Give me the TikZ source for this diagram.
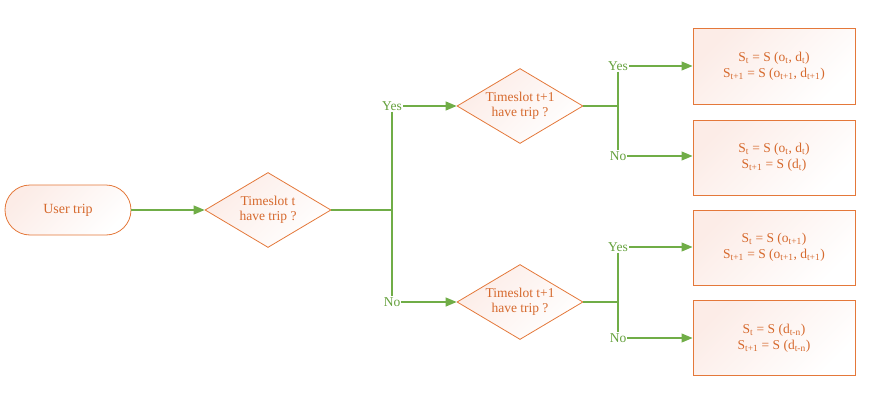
\documentclass[tikz,border=0pt]{standalone}
\usepackage{fontspec}
\setmainfont{Liberation Serif}
\usetikzlibrary{arrows.meta,shapes.geometric}
\definecolor{orangeline}{RGB}{228,120,58}
\definecolor{orangetext}{RGB}{214,105,45}
\definecolor{greenline}{RGB}{112,173,71}
\definecolor{greentext}{RGB}{100,160,60}
\definecolor{pinkfill}{RGB}{252,236,231}
\tikzset{
  shapefill/.style={top color=pinkfill, bottom color=white, shading angle=45},
  startbox/.style={draw=orangeline, line width=0.8pt, shapefill, rounded corners=25pt,
    minimum width=126pt, minimum height=50pt, inner sep=0pt, text=orangetext, font=\fontsize{14}{15}\selectfont},
  decision/.style={draw=orangeline, line width=0.8pt, shapefill, diamond, aspect=1.67,
    minimum width=126pt, minimum height=75pt, inner sep=0pt, text=orangetext, align=center,
    font=\fontsize{13.5}{15}\selectfont},
  resultbox/.style={draw=orangeline, line width=1pt, shapefill, minimum width=162pt,
    minimum height=75pt, inner sep=0pt, text=orangetext, align=center,
    font=\fontsize{13.5}{16}\selectfont},
  lbl/.style={text=greentext, inner sep=1pt, font=\fontsize{13.5}{14}\selectfont},
  conn/.style={draw=greenline, line width=1.2pt},
  arr/.style={conn, -{Triangle[length=11pt,width=9pt]}},
}
\begin{document}
\begin{tikzpicture}[x=1pt,y=-1pt]
\useasboundingbox (0,0) rectangle (875,404);
\node[startbox] (trip) at (68,210) {User trip};
\node[decision] (d1) at (268,210) {Timeslot t\\have trip ?};
\node[decision] (d2) at (520,106) {Timeslot t+1\\have trip ?};
\node[decision] (d3) at (520,302) {Timeslot t+1\\have trip ?};
\node[resultbox] (b1) at (774,66.5) {S\textsubscript{t} = S (o\textsubscript{t}, d\textsubscript{t})\\S\textsubscript{t+1} = S (o\textsubscript{t+1}, d\textsubscript{t+1})};
\node[resultbox] (b2) at (774,157.5) {S\textsubscript{t} = S (o\textsubscript{t}, d\textsubscript{t})\\S\textsubscript{t+1} = S (d\textsubscript{t})};
\node[resultbox] (b3) at (774,247.5) {S\textsubscript{t} = S (o\textsubscript{t+1})\\S\textsubscript{t+1} = S (o\textsubscript{t+1}, d\textsubscript{t+1})};
\node[resultbox] (b4) at (774,338) {S\textsubscript{t} = S (d\textsubscript{t-n})\\S\textsubscript{t+1} = S (d\textsubscript{t-n})};
% labels
\node[lbl] (y1) at (392,106) {Yes};
\node[lbl] (n1) at (392,302) {No};
\node[lbl] (y2) at (618,66) {Yes};
\node[lbl] (n2) at (618,156) {No};
\node[lbl] (y3) at (618,247) {Yes};
\node[lbl] (n3) at (618,338) {No};
\coordinate (j1) at (392,210);
\coordinate (j2) at (618,106);
\coordinate (j3) at (618,302);
% connectors
\draw[arr] (trip.east) -- (d1.west);
\draw[conn] (d1.east) -- (j1);
\draw[conn] (y1.south) -- (n1.north);
\draw[arr] (y1.east) -- (d2.west);
\draw[arr] (n1.east) -- (d3.west);
\draw[conn] (d2.east) -- (j2);
\draw[conn] (y2.south) -- (n2.north);
\draw[arr] (y2.east) -- (b1.west |- y2.east);
\draw[arr] (n2.east) -- (b2.west |- n2.east);
\draw[conn] (d3.east) -- (j3);
\draw[conn] (y3.south) -- (n3.north);
\draw[arr] (y3.east) -- (b3.west |- y3.east);
\draw[arr] (n3.east) -- (b4.west |- n3.east);
\end{tikzpicture}
\end{document}
